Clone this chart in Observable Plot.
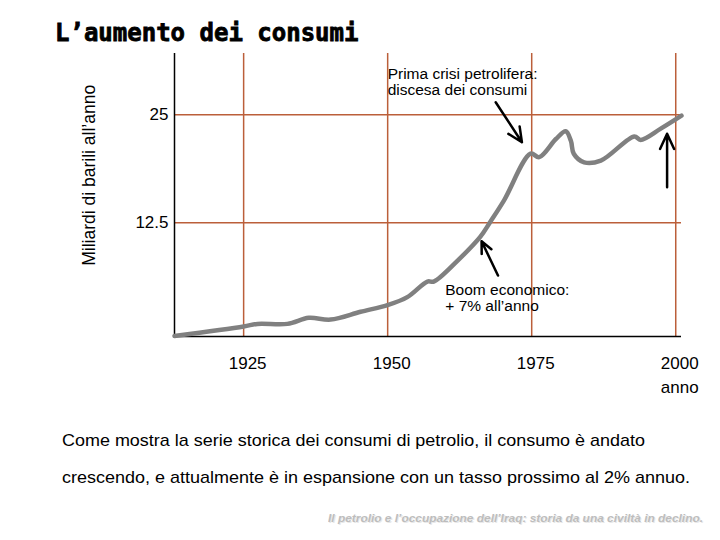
<!DOCTYPE html>
<html>
<head>
<meta charset="utf-8">
<script src="https://cdn.jsdelivr.net/npm/d3@7"></script>
<script src="https://cdn.jsdelivr.net/npm/@observablehq/plot@0.6"></script>
<style>
  html, body { margin: 0; padding: 0; background: #fff; }
  #wrap { position: relative; width: 720px; height: 540px; overflow: hidden; background: #fff; }
  #title { position: absolute; left: 55px; top: 21px; font: bold 24px/24px "DejaVu Sans Mono", monospace; color: #000; white-space: nowrap; -webkit-text-stroke: 0.8px #000; }
  #chart { position: absolute; left: 0; top: 50px; }
  .cap { position: absolute; left: 62px; font: 17px/17px Arial, "Liberation Sans", sans-serif; color: #000; white-space: nowrap; transform-origin: 0 50%; }
  #foot { position: absolute; font: italic bold 11px/11px Arial, "Liberation Sans", sans-serif; color: #bdbdbd; white-space: nowrap; transform-origin: 0 50%;
          text-shadow: 1px 1px 0 #e8e8e8; }
</style>
</head>
<body>
<div id="wrap">
  <div id="title"></div>
  <div id="chart"></div>
  <div class="cap" id="cap1"></div>
  <div class="cap" id="cap2"></div>
  <div id="foot"></div>
</div>
<script>
// ---- data ----
const titleText = "L’aumento dei consumi";
const yLabel = "Miliardi di barili all’anno";
const xLabel = "anno";
const xTicks = [1925, 1950, 1975, 2000];
const yTicks = [12.5, 25];
const years  = [1913, 1925, 1927.4, 1932.6, 1936.3, 1940.1, 1945.3, 1950.1, 1953.4, 1956.9, 1958, 1962.1, 1966.1, 1967.8, 1970.2, 1974.8, 1976.3, 1979.2, 1980.9, 1981.8, 1982.3, 1984.1, 1987, 1992.8, 1993.9, 1997.4, 2001];
const values = [-0.6, 0.5, 0.8, 0.8, 1.5, 1.3, 2.2, 3.0, 3.9, 5.7, 5.7, 8.1, 10.9, 12.6, 15.1, 20.5, 20.1, 22.2, 23.1, 22.0, 20.5, 19.5, 19.7, 22.5, 22.1, 23.4, 24.9];
const noteText = ["Prima crisi petrolifera:\ndiscesa dei consumi", "Boom economico:\n+ 7% all’anno"];
const noteX = [1950, 1960];
const noteY = [30.5, 5.5];
const arrowX1 = [1968.75, 1969.15, 1998.5];
const arrowY1 = [26.46, 6.40, 16.62];
const arrowX2 = [1973.3, 1966.3, 1998.5];
const arrowY2 = [21.83, 10.37, 22.80];
const captionLines = [
  "Come mostra la serie storica dei consumi di petrolio, il consumo è andato",
  "crescendo, e attualmente è in espansione con un tasso prossimo al 2% annuo."
];
const footer = "Il petrolio e l’occupazione dell’Iraq: storia da una civiltà in declino.";

// ---- build tables ----
const series = years.map((x, i) => ({x, y: values[i]}));
const notes = noteText.map((t, i) => ({t, x: noteX[i], y: noteY[i]}));
const arrows = arrowX1.map((x1, i) => ({x1, y1: arrowY1[i], x2: arrowX2[i], y2: arrowY2[i]}));
const xDomain = [1913, 2001];
const yDomain = [-0.66, 32.1];
const grid = "#bb5f3a";

const svg = Plot.plot({
  width: 720,
  height: 350,
  marginTop: 3,
  marginBottom: 64,
  marginLeft: 174,
  marginRight: 39,
  x: {domain: xDomain},
  y: {domain: yDomain},
  style: {fontFamily: "Arial, 'Liberation Sans', sans-serif", background: "white", color: "#000", overflow: "visible"},
  marks: [
    Plot.ruleX(xTicks, {stroke: grid, strokeWidth: 1.5}),
    Plot.ruleY(yTicks, {stroke: grid, strokeWidth: 1.5}),
    Plot.ruleX([xDomain[0]], {stroke: "#000", strokeWidth: 1.5}),
    Plot.ruleY([yDomain[0]], {stroke: "#000", strokeWidth: 1.5}),
    Plot.line(series, {x: "x", y: "y", stroke: "#808080", strokeWidth: 4.5, curve: "catmull-rom", strokeLinejoin: "round", strokeLinecap: "round"}),
    Plot.arrow(arrows, {x1: "x1", y1: "y1", x2: "x2", y2: "y2", stroke: "#000", strokeWidth: 2.5, headLength: 10, headAngle: 50}),
    Plot.text(notes, {x: "x", y: "y", text: "t", textAnchor: "start", lineAnchor: "top", fontSize: 15.5, lineHeight: 1.03, fill: "#000"}),
    Plot.text([yLabel], {frameAnchor: "left", y: [18], text: d => d, rotate: -90, dx: -85, fontSize: 17.5, textAnchor: "middle", lineAnchor: "middle", fill: "#000"}),
    Plot.text([xLabel], {x: [2000], frameAnchor: "bottom", text: d => d, dx: 4, dy: 51, fontSize: 17, lineAnchor: "middle", fill: "#000"}),
    Plot.axisX({ticks: xTicks, tickSize: 0, tickPadding: 20, tickFormat: d => String(d), label: null, fontSize: 17, dx: 4}),
    Plot.axisY({ticks: yTicks, tickSize: 0, tickPadding: 6, tickFormat: d => String(d), label: null, fontSize: 17})
  ]
});
svg.style.display = "block";
document.getElementById("chart").appendChild(svg);

document.getElementById("title").textContent = titleText;

function fit(el, target) {
  const w = el.getBoundingClientRect().width;
  if (w > 0) el.style.transform = `scaleX(${target / w})`;
}
const c1 = document.getElementById("cap1");
const c2 = document.getElementById("cap2");
c1.textContent = captionLines[0];
c2.textContent = captionLines[1];
c1.style.top = "432px";
c2.style.top = "469px";
fit(c1, 583);
fit(c2, 628);
const f = document.getElementById("foot");
f.textContent = footer;
f.style.left = "328px";
f.style.top = "513px";
fit(f, 375);
</script>
</body>
</html>
